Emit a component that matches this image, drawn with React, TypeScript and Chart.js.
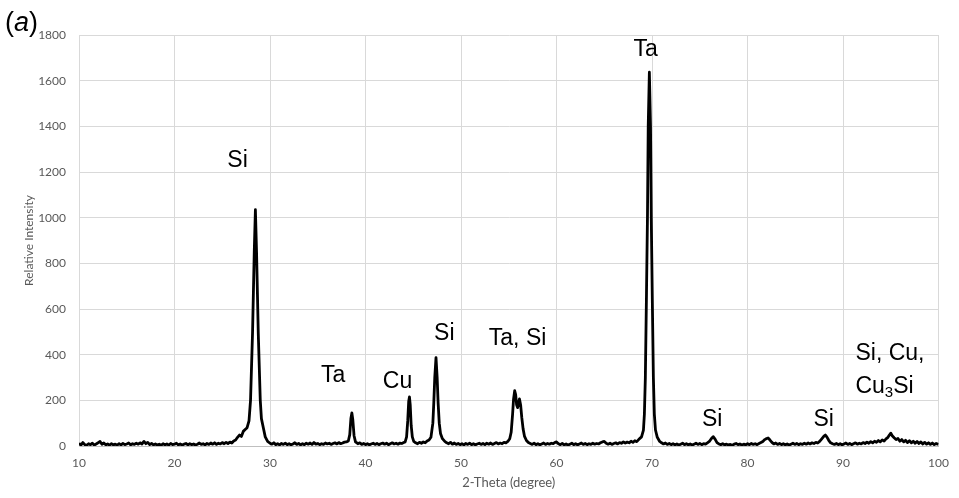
import React, { useEffect, useRef } from "react";
import { Chart, registerables } from "chart.js";

Chart.register(...registerables);

// 2-theta (degree), relative intensity
const baselineLow: [number, number][] = [
  [10.0, 12], [10.2, 4], [10.4, 15], [10.6, 6], [10.8, 3], [11.0, 10], [11.2, 6], [11.4, 12], [11.6, 4],
  [11.8, 9], [12.0, 14], [12.2, 20], [12.4, 8], [12.6, 13], [12.8, 5], [13.0, 9], [13.2, 4], [13.4, 10],
  [13.6, 5], [13.8, 8], [14.0, 4], [14.2, 10], [14.4, 5], [14.6, 11], [14.8, 6], [15.0, 9], [15.2, 13],
  [15.4, 5], [15.6, 10], [15.8, 7], [16.0, 12], [16.2, 8], [16.4, 14], [16.6, 9], [16.8, 20], [17.0, 10],
  [17.2, 16], [17.4, 6], [17.6, 11], [17.8, 5], [18.0, 9], [18.2, 4], [18.4, 8], [18.6, 3], [18.8, 10],
  [19.0, 5], [19.2, 9], [19.4, 4], [19.6, 11], [19.8, 6], [20.0, 8], [20.2, 12], [20.4, 5], [20.6, 9],
  [20.8, 4], [21.0, 8], [21.2, 11], [21.4, 5], [21.6, 10], [21.8, 6], [22.0, 9], [22.2, 4], [22.4, 8],
  [22.6, 13], [22.8, 7], [23.0, 10], [23.2, 5], [23.4, 11], [23.6, 7], [23.8, 13], [24.0, 8], [24.2, 14],
  [24.4, 7], [24.6, 12], [24.8, 9], [25.0, 15], [25.2, 10], [25.4, 16], [25.6, 11], [25.8, 17], [26.0, 13],
  [26.2, 22], [26.4, 26], [26.6, 38], [26.8, 48], [27.0, 42], [27.2, 64], [27.4, 72], [27.6, 80],
];

const siPeak28: [number, number][] = [
  [27.8, 110], [27.96, 200], [28.17, 495], [28.35, 850], [28.47, 1035], [28.59, 850],
  [28.77, 495], [28.98, 200], [29.1, 120], [29.3, 80], [29.5, 40], [29.75, 20],
];

const baselineMid: [number, number][] = [
  [30.0, 12], [30.2, 8], [30.4, 14], [30.6, 6], [30.8, 10], [31.0, 5], [31.2, 11], [31.4, 7], [31.6, 12],
  [31.8, 6], [32.0, 10], [32.2, 5], [32.4, 9], [32.6, 14], [32.8, 7], [33.0, 11], [33.2, 5], [33.4, 10],
  [33.6, 6], [33.8, 12], [34.0, 8], [34.2, 13], [34.4, 7], [34.6, 15], [34.8, 8], [35.0, 11], [35.2, 6],
  [35.4, 10], [35.6, 7], [35.8, 13], [36.0, 9], [36.2, 12], [36.4, 7], [36.6, 11], [36.8, 14], [37.0, 9],
  [37.2, 15], [37.4, 10], [37.6, 13], [37.8, 17], [38.0, 18],
  [38.2, 22], [38.35, 50], [38.47, 120], [38.57, 145], [38.67, 115], [38.8, 45], [38.95, 18],
  [39.2, 10], [39.4, 14], [39.6, 7], [39.8, 11], [40.0, 6], [40.2, 10], [40.4, 5], [40.6, 9], [40.8, 12],
  [41.0, 7], [41.2, 11], [41.4, 6], [41.6, 10], [41.8, 13], [42.0, 8], [42.2, 12], [42.4, 6], [42.6, 10],
  [42.8, 14], [43.0, 9], [43.2, 12], [43.4, 8], [43.6, 13], [43.8, 11], [44.0, 15], [44.15, 18],
  [44.3, 40], [44.42, 110], [44.52, 195], [44.6, 215], [44.68, 180], [44.78, 90], [44.9, 40], [45.05, 20],
  [45.25, 14], [45.45, 10], [45.65, 16], [45.85, 12], [46.05, 18], [46.25, 14], [46.45, 22], [46.65, 26],
  [46.85, 38],
  [47.05, 100], [47.15, 190], [47.25, 300], [47.38, 387], [47.5, 300], [47.6, 190], [47.72, 100],
  [47.85, 55], [48.05, 32], [48.3, 20],
  [48.5, 14], [48.7, 10], [48.9, 16], [49.1, 8], [49.3, 13], [49.5, 7], [49.7, 11], [49.9, 6], [50.1, 10],
  [50.3, 5], [50.5, 11], [50.7, 7], [50.9, 12], [51.1, 6], [51.3, 10], [51.5, 5], [51.7, 9], [51.9, 12],
  [52.1, 7], [52.3, 11], [52.5, 6], [52.7, 12], [52.9, 8], [53.1, 13], [53.3, 7], [53.5, 11], [53.7, 15],
  [53.9, 9], [54.1, 13], [54.3, 10], [54.5, 16], [54.7, 14], [54.9, 20],
  [55.1, 32], [55.25, 60], [55.4, 140], [55.5, 205], [55.62, 242], [55.72, 225], [55.82, 180],
  [55.92, 168], [56.02, 190], [56.12, 206], [56.24, 180], [56.36, 125], [56.5, 75], [56.65, 42],
  [56.85, 24], [57.05, 15],
  [57.25, 11], [57.45, 7], [57.65, 12], [57.85, 6], [58.05, 10], [58.25, 5], [58.45, 9], [58.65, 13],
  [58.85, 7], [59.05, 11], [59.25, 8], [59.45, 12], [59.65, 10], [59.85, 16], [60.0, 18], [60.2, 10],
  [60.4, 6], [60.6, 11], [60.8, 5], [61.0, 9], [61.2, 4], [61.4, 8], [61.6, 12], [61.8, 6], [62.0, 10],
  [62.2, 5], [62.4, 9], [62.6, 13], [62.8, 7], [63.0, 11], [63.2, 6], [63.4, 10], [63.6, 7], [63.8, 12],
  [64.0, 8], [64.2, 11], [64.4, 9], [64.6, 14], [64.8, 18], [65.0, 20], [65.2, 12], [65.4, 8], [65.6, 12],
  [65.8, 7], [66.0, 11], [66.2, 14], [66.4, 9], [66.6, 15], [66.8, 12], [67.0, 18], [67.2, 13], [67.4, 17],
  [67.6, 14], [67.8, 21], [68.0, 16], [68.2, 23], [68.4, 19], [68.6, 28],
];

const taPeak69: [number, number][] = [
  [68.9, 40], [69.1, 70], [69.2, 140], [69.3, 300], [69.42, 670], [69.52, 1000], [69.6, 1400],
  [69.72, 1637], [69.84, 1400], [69.92, 1000], [70.02, 670], [70.14, 300], [70.24, 140], [70.36, 70],
  [70.55, 38], [70.8, 20], [71.0, 14],
];

const baselineHigh: [number, number][] = [
  [71.2, 9], [71.4, 13], [71.6, 7], [71.8, 11], [72.0, 6], [72.2, 10], [72.4, 5], [72.6, 9], [72.8, 4],
  [73.0, 8], [73.2, 12], [73.4, 6], [73.6, 10], [73.8, 5], [74.0, 9], [74.2, 4], [74.4, 8], [74.6, 12],
  [74.8, 7], [75.0, 11], [75.2, 6], [75.4, 10], [75.6, 8], [75.8, 14], [76.0, 20], [76.2, 32], [76.4, 41],
  [76.6, 30], [76.8, 15], [77.0, 9], [77.2, 6], [77.4, 10], [77.6, 5], [77.8, 8], [78.0, 4], [78.2, 7],
  [78.4, 3], [78.6, 8], [78.8, 11], [79.0, 6], [79.2, 9], [79.4, 4], [79.6, 8], [79.8, 5], [80.0, 10],
  [80.2, 6], [80.4, 11], [80.6, 7], [80.8, 10], [81.0, 6], [81.2, 11], [81.4, 15], [81.6, 20], [81.8, 28],
  [82.0, 33], [82.15, 35], [82.35, 26], [82.55, 16], [82.75, 9], [82.95, 13], [83.15, 7], [83.35, 11],
  [83.55, 6], [83.75, 10], [83.95, 5], [84.15, 9], [84.35, 4], [84.55, 8], [84.75, 12], [84.95, 7],
  [85.15, 11], [85.35, 6], [85.55, 10], [85.75, 7], [85.95, 12], [86.15, 8], [86.35, 13], [86.55, 9],
  [86.75, 14], [86.95, 11], [87.15, 16], [87.35, 13], [87.55, 20], [87.75, 30], [88.0, 43], [88.15, 48],
  [88.3, 40], [88.5, 25], [88.7, 14], [88.9, 10], [89.1, 7], [89.3, 11], [89.5, 6], [89.7, 10], [89.9, 5],
  [90.1, 9], [90.3, 13], [90.5, 7], [90.7, 11], [90.9, 6], [91.1, 10], [91.3, 14], [91.5, 8], [91.7, 12],
  [91.9, 9], [92.1, 15], [92.3, 11], [92.5, 17], [92.7, 12], [92.9, 19], [93.1, 14], [93.3, 21], [93.5, 16],
  [93.7, 24], [93.9, 18], [94.1, 27], [94.3, 22], [94.5, 31], [94.7, 38], [94.85, 48], [95.0, 56],
  [95.15, 45], [95.35, 36], [95.55, 28], [95.75, 33], [95.95, 21], [96.15, 28], [96.35, 18], [96.55, 25],
  [96.75, 15], [96.95, 23], [97.15, 14], [97.35, 21], [97.55, 12], [97.75, 20], [97.95, 11], [98.15, 18],
  [98.35, 9], [98.55, 16], [98.75, 8], [98.95, 14], [99.15, 7], [99.35, 13], [99.55, 6], [99.75, 11],
  [100.0, 7],
];

const xTicks = [10, 20, 30, 40, 50, 60, 70, 80, 90, 100];
const yTicks = [0, 200, 400, 600, 800, 1000, 1200, 1400, 1600, 1800];

// Peak annotations ("_3" marks a subscript 3)
const peakLabels = ["Si", "Ta", "Cu", "Si", "Ta, Si", "Ta", "Si", "Si", "Si, Cu,", "Cu_3Si"];
const labelTheta = [26.6, 36.6, 43.35, 48.25, 55.92, 69.33, 76.3, 87.97, 91.3, 91.3];
const labelIntensity = [1248, 310, 283, 494, 472, 1738, 116, 116, 406, 262];
const labelAlign = ["center", "center", "center", "center", "center", "center", "center", "center", "left", "left"];

const xTitle = "2-Theta (degree)";
const yTitle = "Relative Intensity";

const labelFont = "23px 'Liberation Sans', Arial, sans-serif";
const subFont = "15px 'Liberation Sans', Arial, sans-serif";

const annotationPlugin = {
  id: "peakAnnotations",
  afterDatasetsDraw(chart: any) {
    const { ctx, scales } = chart;
    const xs = scales.x;
    const ys = scales.y;
    ctx.save();
    ctx.fillStyle = "#000";
    ctx.textBaseline = "middle";
    peakLabels.forEach((raw, i) => {
      const px = xs.getPixelForValue(labelTheta[i]);
      const py = ys.getPixelForValue(labelIntensity[i]);
      const parts: { t: string; sub: boolean }[] = [];
      const m = raw.split("_");
      if (m.length === 1) parts.push({ t: raw, sub: false });
      else {
        parts.push({ t: m[0], sub: false });
        parts.push({ t: m[1].charAt(0), sub: true });
        parts.push({ t: m[1].slice(1), sub: false });
      }
      let total = 0;
      const widths = parts.map((p) => {
        ctx.font = p.sub ? subFont : labelFont;
        const w = ctx.measureText(p.t).width;
        total += w;
        return w;
      });
      let x = labelAlign[i] === "left" ? px : px - total / 2;
      ctx.textAlign = "left";
      parts.forEach((p, k) => {
        ctx.font = p.sub ? subFont : labelFont;
        ctx.fillText(p.t, x, p.sub ? py + 7 : py);
        x += widths[k];
      });
    });
    ctx.restore();
  },
};

export default function App() {
  const canvasRef = useRef<HTMLCanvasElement | null>(null);

  useEffect(() => {
    if (!canvasRef.current) return;
    const data = [...baselineLow, ...siPeak28, ...baselineMid, ...taPeak69, ...baselineHigh].map(
      ([x, y]) => ({ x, y })
    );
    const tickFont = { family: "Lato, 'Open Sans', sans-serif", size: 12 };
    const chart = new Chart(canvasRef.current, {
      type: "scatter",
      data: {
        datasets: [
          {
            data,
            showLine: true,
            borderColor: "#000",
            borderWidth: 2.8,
            pointRadius: 0,
            tension: 0,
            borderJoinStyle: "round",
          },
        ],
      },
      options: {
        animation: false,
        responsive: false,
        maintainAspectRatio: false,
        layout: { padding: { top: 35, right: 19, left: 0, bottom: 0 } },
        plugins: { legend: { display: false }, tooltip: { enabled: false } },
        scales: {
          x: {
            type: "linear",
            min: 10,
            max: 100,
            afterBuildTicks: (s: any) => {
              s.ticks = xTicks.map((v) => ({ value: v }));
            },
            afterFit: (s: any) => {
              s.height = 52;
            },
            ticks: { color: "#595959", font: tickFont, padding: 10, callback: (v: any) => String(v) },
            grid: { color: "#d9d9d9", lineWidth: 1, drawTicks: false },
            border: { color: "#bfbfbf", width: 1 },
            title: {
              display: true,
              text: xTitle,
              color: "#595959",
              font: { family: "Lato, 'Open Sans', sans-serif", size: 13 },
              padding: { top: 0, bottom: 7 },
            },
          },
          y: {
            type: "linear",
            min: 0,
            max: 1800,
            afterBuildTicks: (s: any) => {
              s.ticks = yTicks.map((v) => ({ value: v }));
            },
            afterFit: (s: any) => {
              s.width = 79;
            },
            ticks: { color: "#595959", font: tickFont, padding: 13, callback: (v: any) => String(v) },
            grid: { color: "#d9d9d9", lineWidth: 1, drawTicks: false },
            border: { color: "#d9d9d9", width: 1 },
            title: {
              display: true,
              text: yTitle,
              color: "#595959",
              font: { family: "Lato, 'Open Sans', sans-serif", size: 12 },
              padding: { top: 22, bottom: 0 },
            },
          },
        },
      },
      plugins: [annotationPlugin],
    } as any);
    return () => chart.destroy();
  }, []);

  return (
    <div style={{ position: "absolute", left: 0, top: 0, width: 959, height: 498, background: "#fff" }}>
      <canvas ref={canvasRef} width={959} height={498} style={{ display: "block" }} />
      <div
        style={{
          position: "absolute",
          left: 5,
          top: 7,
          fontFamily: "'Liberation Sans', Arial, sans-serif",
          fontSize: 27,
          lineHeight: "31px",
          color: "#000",
        }}
      >
        (<i>a</i>)
      </div>
    </div>
  );
}
